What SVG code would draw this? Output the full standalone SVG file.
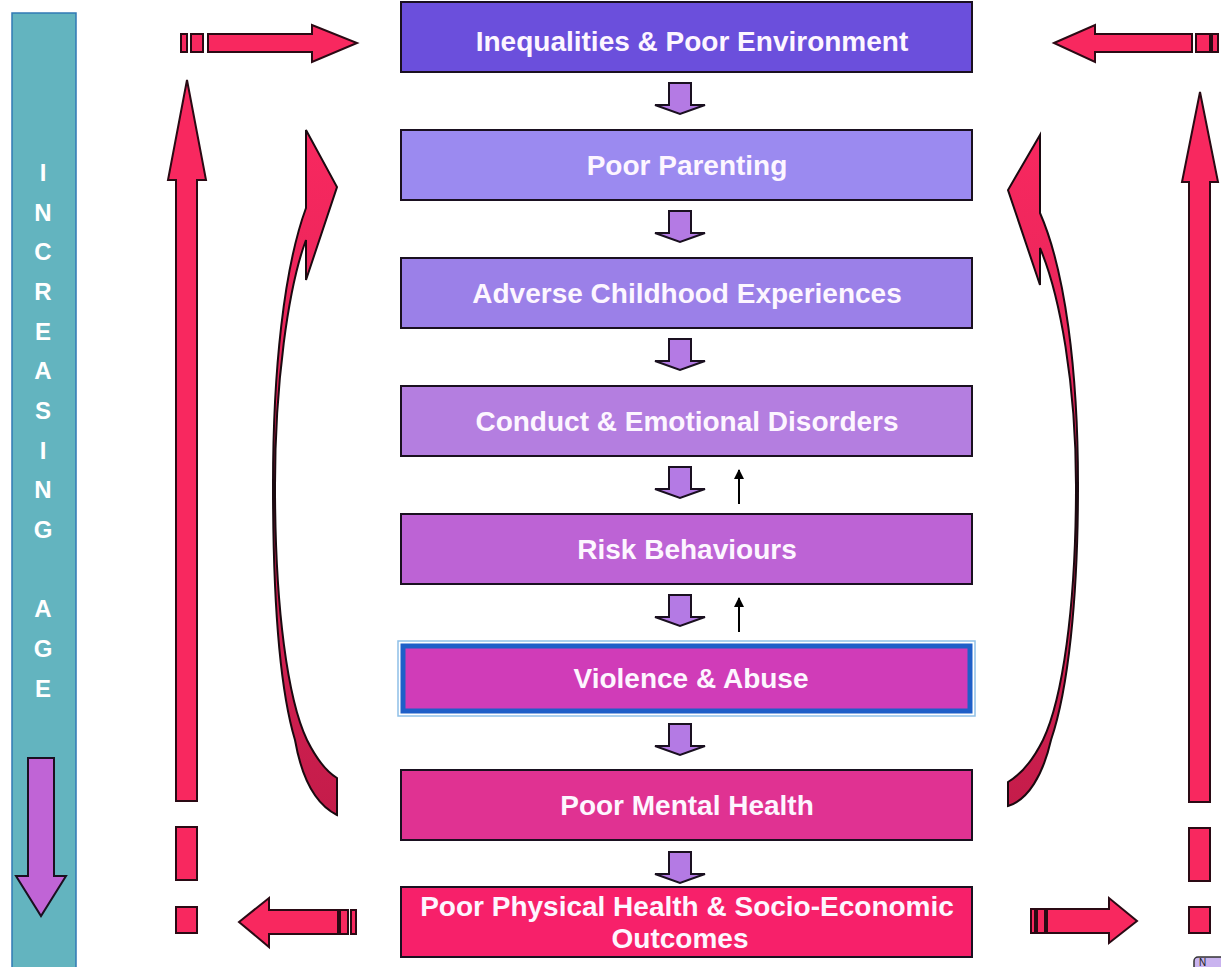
<svg xmlns="http://www.w3.org/2000/svg" width="1221" height="967" viewBox="0 0 1221 967">
<style>
.box{stroke:#1a1020;stroke-width:2}
.t{font-family:"Liberation Sans",Arial,sans-serif;font-weight:bold;font-size:28px;fill:#fdf6ff;text-anchor:middle}
.age{font-family:"Liberation Sans",Arial,sans-serif;font-weight:bold;font-size:24px;fill:#ffffff;text-anchor:middle}
.pk{fill:#f8285f;stroke:#2a0a14;stroke-width:2;stroke-linejoin:miter}
.dn{fill:#b47ae4;stroke:#1a1020;stroke-width:2}
.up{stroke:#000;stroke-width:2;fill:none}
</style>
<defs>
<marker id="ah" viewBox="0 0 10 10" refX="9" refY="5" markerWidth="5" markerHeight="5" orient="auto" markerUnits="strokeWidth">
<path d="M0,0 L10,5 L0,10 Z" fill="#000"/>
</marker>
<linearGradient id="cg" x1="0" y1="130" x2="0" y2="815" gradientUnits="userSpaceOnUse">
<stop offset="0" stop-color="#f8285f"/>
<stop offset="0.5" stop-color="#e02458"/>
<stop offset="1" stop-color="#c41c4a"/>
</linearGradient>
</defs>
<rect width="1221" height="967" fill="#ffffff"/>

<g id="age-bar">
<rect x="12" y="13" width="64" height="962" fill="#63b4bf" stroke="#3179b5" stroke-width="1.5"/>
<text class="age" x="43" y="181">I</text>
<text class="age" x="43" y="221">N</text>
<text class="age" x="43" y="260">C</text>
<text class="age" x="43" y="300">R</text>
<text class="age" x="43" y="340">E</text>
<text class="age" x="43" y="379">A</text>
<text class="age" x="43" y="419">S</text>
<text class="age" x="43" y="459">I</text>
<text class="age" x="43" y="498">N</text>
<text class="age" x="43" y="538">G</text>
<text class="age" x="43" y="617">A</text>
<text class="age" x="43" y="657">G</text>
<text class="age" x="43" y="697">E</text>
<polygon points="28,758 54,758 54,876 66,876 41,916 16,876 28,876" fill="#c064d6" stroke="#1a1020" stroke-width="2"/>
</g>

<g id="n1">
<rect class="box" x="401" y="2" width="571" height="70" fill="#6b4fdc"/>
<text class="t" x="692" y="51">Inequalities &amp; Poor Environment</text>
</g>
<g id="n2">
<rect class="box" x="401" y="130" width="571" height="70" fill="#9b8af0"/>
<text class="t" x="687" y="175">Poor Parenting</text>
</g>
<g id="n3">
<rect class="box" x="401" y="258" width="571" height="70" fill="#9b80e8"/>
<text class="t" x="687" y="303">Adverse Childhood Experiences</text>
</g>
<g id="n4">
<rect class="box" x="401" y="386" width="571" height="70" fill="#b47ee0"/>
<text class="t" x="687" y="431">Conduct &amp; Emotional Disorders</text>
</g>
<g id="n5">
<rect class="box" x="401" y="514" width="571" height="70" fill="#bd63d5"/>
<text class="t" x="687" y="559">Risk Behaviours</text>
</g>
<g id="n6">
<rect x="398" y="641" width="577" height="75" fill="none" stroke="#8fc0e8" stroke-width="1.5"/>
<rect x="403" y="646" width="567" height="65" fill="#d03cb8" stroke="#1e5fc8" stroke-width="5"/>
<text class="t" x="691" y="688">Violence &amp; Abuse</text>
</g>
<g id="n7">
<rect class="box" x="401" y="770" width="571" height="70" fill="#e03292"/>
<text class="t" x="687" y="815">Poor Mental Health</text>
</g>
<g id="n8">
<rect class="box" x="401" y="887" width="571" height="70" fill="#f7206a"/>
<text class="t" x="687" y="916">Poor Physical Health &amp; Socio-Economic</text>
<text class="t" x="680" y="948">Outcomes</text>
</g>

<g id="connectors">
<polygon class="dn" points="669,83 691,83 691,105 705,105 680,114 655,105 669,105"/>
<polygon class="dn" points="669,211 691,211 691,233 705,233 680,242 655,233 669,233"/>
<polygon class="dn" points="669,339 691,339 691,361 705,361 680,370 655,361 669,361"/>
<polygon class="dn" points="669,467 691,467 691,489 705,489 680,498 655,489 669,489"/>
<polygon class="dn" points="669,595 691,595 691,617 705,617 680,626 655,617 669,617"/>
<polygon class="dn" points="669,724 691,724 691,746 705,746 680,755 655,746 669,746"/>
<polygon class="dn" points="669,852 691,852 691,874 705,874 680,883 655,874 669,874"/>

<line class="up" x1="739" y1="504" x2="739" y2="470" marker-end="url(#ah)"/>
<line class="up" x1="739" y1="632" x2="739" y2="598" marker-end="url(#ah)"/>

<polygon class="pk" points="187,80 206,180 197,180 197,801 176,801 176,180 168,180"/>
<rect class="pk" x="176" y="827" width="21" height="53"/>
<rect class="pk" x="176" y="907" width="21" height="26"/>

<polygon class="pk" points="1200,92 1218,182 1210,182 1210,802 1189,802 1189,182 1182,182"/>
<rect class="pk" x="1189" y="828" width="21" height="53"/>
<rect class="pk" x="1189" y="907" width="21" height="26"/>

<rect class="pk" x="181" y="34" width="6" height="18"/>
<rect class="pk" x="191" y="34" width="12" height="18"/>
<polygon class="pk" points="208,34 312,34 312,25 357,43 312,62 312,52 208,52"/>

<polygon class="pk" points="1054,43 1095,25 1095,34 1192,34 1192,52 1095,52 1095,62"/>
<rect class="pk" x="1196" y="34" width="14" height="18"/>
<rect class="pk" x="1212" y="34" width="6" height="18"/>

<polygon class="pk" points="239,922 269,898 269,910 338,910 338,934 269,934 269,947"/>
<rect class="pk" x="340" y="910" width="8" height="24"/>
<rect class="pk" x="351" y="910" width="5" height="24"/>

<rect class="pk" x="1031" y="909" width="4" height="24"/>
<rect class="pk" x="1037" y="909" width="8" height="24"/>
<polygon class="pk" points="1047,909 1109,909 1109,898 1137,921 1109,943 1109,933 1047,933"/>

<path d="M306,130 L337,187 L306,280 L306,240 C288,288 275,385 275,485 C275,610 288,700 307,740 C317,760 327,772 337,778 L337,815 C317,805 302,780 295,740 C280,690 273,600 273,485 C273,370 284,268 306,208 Z" fill="url(#cg)" stroke="#1a0a10" stroke-width="2" stroke-linejoin="miter"/>
<path d="M1040,135 L1008,190 L1040,285 L1040,248 C1060,295 1076,385 1076,485 C1076,610 1062,700 1043,740 C1033,760 1020,775 1008,782 L1008,806 C1028,800 1043,775 1051,740 C1068,690 1078,600 1078,485 C1078,370 1065,270 1040,213 Z" fill="url(#cg)" stroke="#1a0a10" stroke-width="2" stroke-linejoin="miter"/>
</g>

<g id="n-corner">
<rect x="1194" y="957" width="40" height="16" rx="4" fill="#c9b3ef" stroke="#333333" stroke-width="1.5"/>
<text x="1199" y="966" font-family="Liberation Sans, Arial, sans-serif" font-size="10" fill="#222222">N</text>
</g>
</svg>
